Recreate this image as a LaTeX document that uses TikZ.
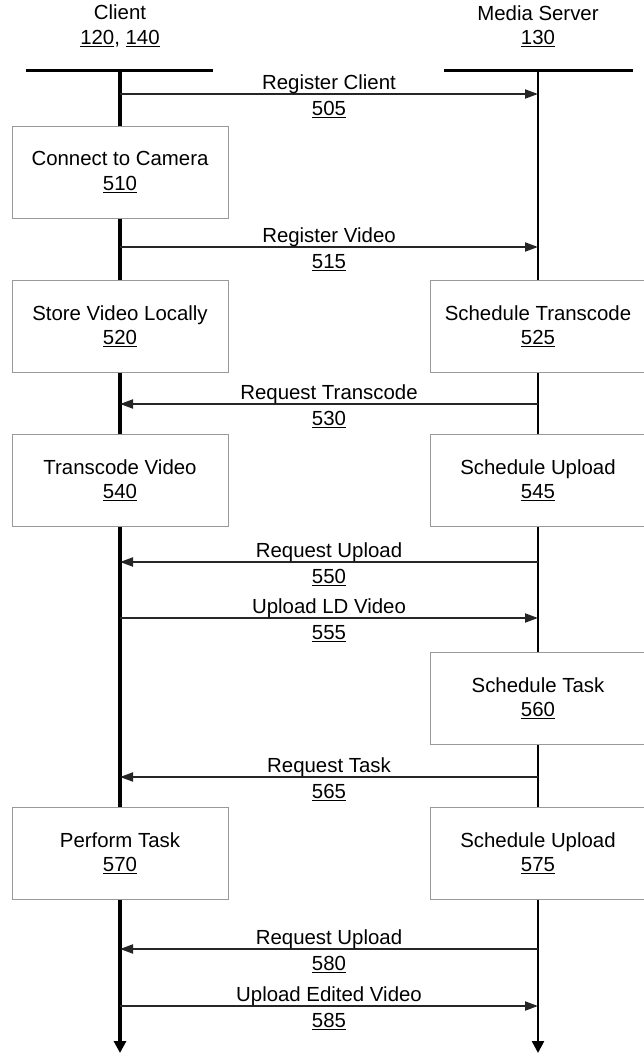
\documentclass[tikz,border=0pt]{standalone}
\usepackage{fontspec}
\setmainfont{Liberation Sans}
\usetikzlibrary{arrows.meta}

\begin{document}
\begin{tikzpicture}[
   x=1pt,y=-1pt,
   every node/.style={font=\fontsize{20.4}{24.5}\selectfont},
   header/.style={align=center,inner sep=0pt},
   headline/.style={line width=3pt},
   lifeline/.style={line width=#1,-{Triangle[length=12pt,width=12pt]}},
   action/.style={draw=black!40,line width=1pt,fill=white,minimum width=216pt,
     minimum height=92pt,align=center,inner sep=0pt},
   msg/.style={line width=2pt,draw=black!85,-{Triangle[length=13pt,width=9pt]}},
   above label/.style={anchor=base,yshift=5pt,inner sep=0pt},
   below label/.style={anchor=base,yshift=-21.5pt,inner sep=0pt}
 ]
  \useasboundingbox (0,0) rectangle (644,1053);

  % The two parties and their lifelines.
  \node[header] (client) at (120,26) {Client\\\underline{120}, \underline{140}};
  \node[header] (server) at (538,26) {Media Server\\\underline{130}};
  \coordinate (ctop) at (120,70);
  \coordinate (cbot) at (120,1053);
  \coordinate (stop) at (538,70);
  \coordinate (sbot) at (538,1053);
  \draw[headline] (26,70) -- (213,70);
  \draw[headline] (444,70) -- (633,70);
  \draw[lifeline=4pt] (ctop) -- (cbot);
  \draw[lifeline=2.5pt] (stop) -- (sbot);

  % Message end points on the client and the server lifelines.
  \coordinate (c505) at (120,94);   \coordinate (s505) at (538,94);
  \coordinate (c515) at (120,247);  \coordinate (s515) at (538,247);
  \coordinate (c530) at (120,404);  \coordinate (s530) at (538,404);
  \coordinate (c550) at (120,562);  \coordinate (s550) at (538,562);
  \coordinate (c555) at (120,618);  \coordinate (s555) at (538,618);
  \coordinate (c565) at (120,777);  \coordinate (s565) at (538,777);
  \coordinate (c580) at (120,949);  \coordinate (s580) at (538,949);
  \coordinate (c585) at (120,1006); \coordinate (s585) at (538,1006);

  % Steps, drawn over the lifelines.
  \node[action] (b510) at (120,172) {Connect to Camera\\\underline{510}};
  \node[action] (b520) at (120,326) {Store Video Locally\\\underline{520}};
  \node[action] (b525) at (538,326) {Schedule Transcode\\\underline{525}};
  \node[action] (b540) at (120,480) {Transcode Video\\\underline{540}};
  \node[action] (b545) at (538,480) {Schedule Upload\\\underline{545}};
  \node[action] (b560) at (538,698) {Schedule Task\\\underline{560}};
  \node[action] (b570) at (120,853) {Perform Task\\\underline{570}};
  \node[action] (b575) at (538,853) {Schedule Upload\\\underline{575}};

  % Messages between client and server.
  \draw[msg] (c505) -- (s505) node[midway,above label] {Register Client}
    node[midway,below label] {\underline{505}};
  \draw[msg] (c515) -- (s515) node[midway,above label] {Register Video}
    node[midway,below label] {\underline{515}};
  \draw[msg] (s530) -- (c530) node[midway,above label] {Request Transcode}
    node[midway,below label] {\underline{530}};
  \draw[msg] (s550) -- (c550) node[midway,above label] {Request Upload}
    node[midway,below label] {\underline{550}};
  \draw[msg] (c555) -- (s555) node[midway,above label] {Upload LD Video}
    node[midway,below label] {\underline{555}};
  \draw[msg] (s565) -- (c565) node[midway,above label] {Request Task}
    node[midway,below label] {\underline{565}};
  \draw[msg] (s580) -- (c580) node[midway,above label] {Request Upload}
    node[midway,below label] {\underline{580}};
  \draw[msg] (c585) -- (s585) node[midway,above label] {Upload Edited Video}
    node[midway,below label] {\underline{585}};
\end{tikzpicture}
\end{document}
